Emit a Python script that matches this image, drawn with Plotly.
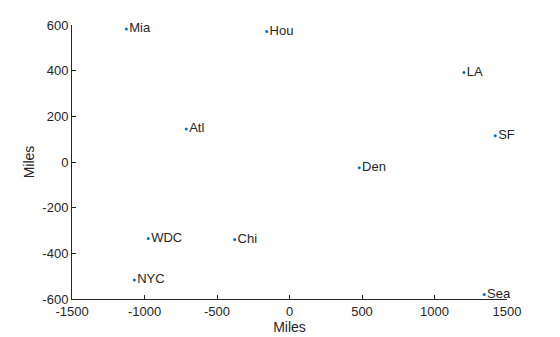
import plotly.graph_objects as go

cities = ["Atl", "Chi", "Den", "Hou", "LA", "Mia", "NYC", "SF", "Sea", "WDC"]
x_miles = [-712, -378, 481, -157, 1203, -1125, -1070, 1419, 1343, -974]
y_miles = [144, -339, -25, 572, 392, 582, -517, 115, -580, -335]

x_ticks = [-1500, -1000, -500, 0, 500, 1000, 1500]
y_ticks = [-600, -400, -200, 0, 200, 400, 600]

axis_color = "#262626"
font_family = "Liberation Sans, Arial, Helvetica, sans-serif"

fig = go.Figure()
fig.add_trace(go.Scatter(
    x=x_miles, y=y_miles, mode="markers+text",
    text=cities, textposition="middle right",
    marker=dict(color="#0072BD", size=3),
    textfont=dict(color=axis_color, size=13, family=font_family),
    cliponaxis=False, showlegend=False,
))

common = dict(
    showgrid=False, zeroline=False, showline=True, linecolor=axis_color,
    linewidth=1, ticks="inside", ticklen=4, tickcolor=axis_color,
    tickfont=dict(size=13, color=axis_color, family=font_family),
    mirror=False, automargin=False,
)
fig.update_xaxes(range=[-1500, 1500], tickvals=x_ticks, ticktext=[str(v) for v in x_ticks],
                 title=dict(text="Miles", font=dict(size=14, color=axis_color, family=font_family), standoff=2),
                 **common)
fig.update_yaxes(range=[-600, 600], tickvals=y_ticks, ticktext=[str(v) for v in y_ticks],
                 title=dict(text="Miles", font=dict(size=14, color=axis_color, family=font_family), standoff=4),
                 **common)
fig.update_layout(
    width=560, height=337,
    margin=dict(l=72, r=53, t=25, b=38),
    plot_bgcolor="white", paper_bgcolor="white",
    font=dict(family=font_family, color=axis_color),
)
fig.write_html("out.html")
